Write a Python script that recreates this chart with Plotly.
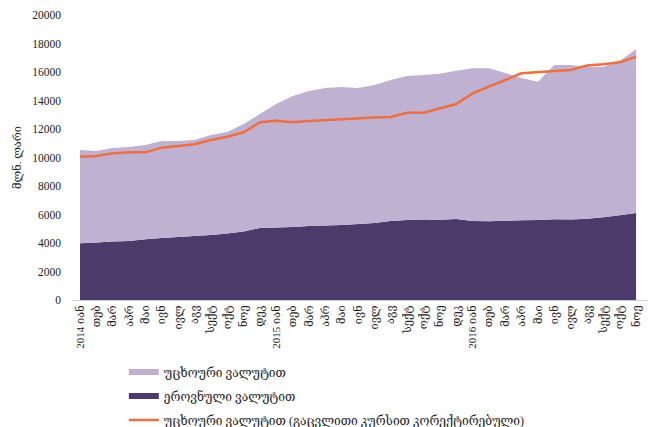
import plotly.graph_objects as go

# monthly loan stock, mln GEL (Jan 2014 - Nov 2016)
months = ["იან", "თებ", "მარ", "აპრ", "მაი", "ივნ", "ივლ", "აგვ", "სექტ", "ოქტ", "ნოე", "დეკ"]
years = [2014, 2015, 2016]
tick_labels = []
for y in years:
    for i, m in enumerate(months):
        tick_labels.append(f"{y} {m}" if i == 0 else m)
tick_labels = tick_labels[:35]

national = [3980, 4030, 4100, 4140, 4260, 4350, 4420, 4490, 4560, 4670, 4810, 5050,
            5090, 5120, 5190, 5230, 5260, 5330, 5400, 5540, 5610, 5650, 5630, 5680,
            5550, 5520, 5560, 5600, 5620, 5660, 5650, 5700, 5800, 5950, 6100]
foreign = [6550, 6430, 6570, 6600, 6620, 6810, 6740, 6740, 7020, 7120, 7540, 8000,
           8660, 9200, 9480, 9650, 9690, 9550, 9690, 9900, 10110, 10140, 10250, 10410,
           10710, 10740, 10370, 9980, 9700, 10830, 10840, 10650, 10570, 10820, 11500]
fx_adjusted = [10060, 10100, 10290, 10360, 10360, 10690, 10810, 10930, 11230, 11460, 11770, 12470,
               12580, 12470, 12560, 12630, 12700, 12770, 12810, 12840, 13140, 13140, 13470, 13750,
               14500, 14950, 15440, 15910, 16000, 16070, 16140, 16460, 16540, 16680, 17070]

x = list(range(len(tick_labels)))
FONT = "Liberation Serif, DejaVu Serif, DejaVu Sans"

fig = go.Figure()
fig.add_trace(go.Scatter(x=x, y=national, stackgroup="one", mode="none",
                         fillcolor="rgb(76,58,107)", name="ეროვნული ვალუტით",
                         legend="legend2"))
fig.add_trace(go.Scatter(x=x, y=foreign, stackgroup="one", mode="none",
                         fillcolor="rgb(191,177,210)", name="უცხოური ვალუტით",
                         legend="legend"))
fig.add_trace(go.Scatter(x=x, y=fx_adjusted, mode="lines",
                         line=dict(color="rgb(242,110,58)", width=2.5),
                         name="უცხოური ვალუტით (გაცვლითი კურსით კორექტირებული)",
                         legend="legend3"))

# legends placed vertically in container coords so they don't shrink the plot area
leg = dict(x=0.09, xanchor="left", yanchor="middle", xref="paper", yref="container",
           font=dict(size=12), bgcolor="rgba(0,0,0,0)", itemwidth=30)

fig.update_layout(
    width=653, height=427,
    margin=dict(l=72, r=5, t=15, b=127),
    paper_bgcolor="white", plot_bgcolor="white",
    font=dict(family=FONT, size=12, color="#222"),
    showlegend=True,
    legend=dict(leg, y=0.1288),
    legend2=dict(leg, y=0.0726),
    legend3=dict(leg, y=0.0164),
    xaxis=dict(range=[-0.49, 34.73], tickmode="array", tickvals=x, ticktext=tick_labels,
               tickangle=-90, showgrid=False, zeroline=False, showline=True,
               linecolor="#d0d0d0", linewidth=1, ticks="", tickfont=dict(size=11),
               automargin=False),
    yaxis=dict(range=[0, 20000], dtick=2000, tickformat="d", showgrid=False,
               zeroline=False, showline=False, ticks="", tickfont=dict(size=11.5),
               ticklabelstandoff=10, automargin=False,
               title=dict(text="მლნ. ლარი", font=dict(size=11), standoff=8)),
)

# drop the default page margin so the figure fills the window exactly
page_js = ("document.body.style.margin='0';"
           "document.body.style.overflow='hidden';")
fig.write_html("out.html", config={"displayModeBar": False}, post_script=page_js)
